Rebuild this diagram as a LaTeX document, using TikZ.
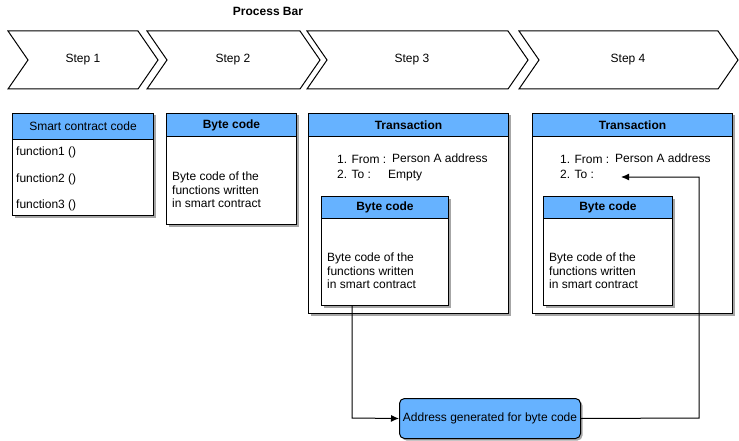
\documentclass[tikz,border=0pt]{standalone}
\usepackage{fontspec}
\setmainfont{Liberation Sans}
\usetikzlibrary{shadows,arrows.meta}
\definecolor{hdrblue}{HTML}{66B2FF}
\begin{document}
\begin{tikzpicture}[x=1pt,y=-1pt,
  txt/.style={font=\fontsize{12}{13.6}\selectfont, inner sep=0pt},
  chev/.style={draw=black, line width=1pt, line join=miter},
  box/.style={draw=black, fill=white, line width=1pt, inner sep=0pt, anchor=north west,
    drop shadow={shadow xshift=2pt, shadow yshift=-2pt, fill=black!35, opacity=1}},
  hdr/.style={draw=black, fill=hdrblue, line width=1pt, inner sep=0pt, anchor=north west,
    font=\fontsize{12}{14}\selectfont},
  addrbox/.style={draw=black, fill=hdrblue, line width=1pt, rounded corners=5pt, inner sep=0pt,
    anchor=north west, font=\fontsize{12}{14}\selectfont,
    drop shadow={shadow xshift=2pt, shadow yshift=-2pt, fill=black!35, opacity=1}},
  conn/.style={draw=black, line width=1pt, -{Latex[length=8pt,width=7pt]}}
]
\useasboundingbox (0,0) rectangle (739,441);

% title
\node[txt, font=\fontsize{12}{14}\selectfont\bfseries] (title) at (268,11) {Process Bar};

% chevrons
\draw[chev] (8,31) -- (138,31) -- (158,60) -- (138,89) -- (8,89) -- (28,60) -- cycle;
\draw[chev] (147,31) -- (300,31) -- (320,60) -- (300,89) -- (147,89) -- (167,60) -- cycle;
\draw[chev] (307,31) -- (508,31) -- (528,60) -- (508,89) -- (307,89) -- (327,60) -- cycle;
\draw[chev] (519,31) -- (718,31) -- (738,60) -- (718,89) -- (519,89) -- (539,60) -- cycle;
\node[txt] (s1) at (83,60) {Step 1};
\node[txt] (s2) at (233,60) {Step 2};
\node[txt] (s3) at (412,60) {Step 3};
\node[txt] (s4) at (628,60) {Step 4};

% box 1: smart contract code
\node[box, minimum width=141pt, minimum height=102pt] (sc) at (12,113) {};
\node[hdr, minimum width=141pt, minimum height=26pt] (schdr) at (12,113) {Smart contract code};
\node[txt, anchor=west] (f1) at (16,152) {function1 ()};
\node[txt, anchor=west] (f2) at (16,179) {function2 ()};
\node[txt, anchor=west] (f3) at (16,205) {function3 ()};

% box 2: byte code
\node[box, minimum width=130pt, minimum height=111pt] (bc2) at (166,113) {};
\node[hdr, minimum width=130pt, minimum height=23pt, font=\fontsize{12}{14}\selectfont\bfseries] (bc2hdr) at (166,113) {Byte code};
\node[txt, anchor=west, align=left] (bc2t) at (172,190) {Byte code of the\\functions written\\in smart contract};

% box 3: transaction
\node[box, minimum width=200pt, minimum height=200pt] (tr3) at (308,113) {};
\node[hdr, minimum width=200pt, minimum height=23pt, font=\fontsize{12}{14}\selectfont\bfseries] (tr3hdr) at (308,113) {Transaction};
\node[txt, anchor=west] (tr3a) at (337,159) {1. From :};
\node[txt, anchor=west] (tr3b) at (392,158) {Person A address};
\node[txt, anchor=west] (tr3c) at (337,174) {2. To :};
\node[txt, anchor=west] (tr3d) at (388,176) {Empty};
\node[box, minimum width=127pt, minimum height=109pt] (bc3) at (321,196) {};
\node[hdr, minimum width=127pt, minimum height=22pt, font=\fontsize{12}{14}\selectfont\bfseries] (bc3hdr) at (321,196) {Byte code};
\node[txt, anchor=west, align=left] (bc3t) at (327,271) {Byte code of the\\functions written\\in smart contract};

% box 4: transaction
\node[box, minimum width=200pt, minimum height=200pt] (tr4) at (532,113) {};
\node[hdr, minimum width=200pt, minimum height=23pt, font=\fontsize{12}{14}\selectfont\bfseries] (tr4hdr) at (532,113) {Transaction};
\node[txt, anchor=west] (tr4a) at (560,159) {1. From :};
\node[txt, anchor=west] (tr4b) at (615,158) {Person A address};
\node[txt, anchor=west] (tr4c) at (560,174) {2. To :};
\node[box, minimum width=129pt, minimum height=109pt] (bc4) at (543,196) {};
\node[hdr, minimum width=129pt, minimum height=22pt, font=\fontsize{12}{14}\selectfont\bfseries] (bc4hdr) at (543,196) {Byte code};
\node[txt, anchor=west, align=left] (bc4t) at (549,271) {Byte code of the\\functions written\\in smart contract};

% address box
\node[addrbox, minimum width=181pt, minimum height=40pt] (addr) at (399,398) {Address generated for byte code};

% connectors
\coordinate (toend) at (621,177);
\draw[conn] (bc3.south -| 352,0) -- (352,418) -- (addr.west);
\draw[conn] (addr.east) -- (699,418) -- (699,177) -- (toend);
\end{tikzpicture}
\end{document}
